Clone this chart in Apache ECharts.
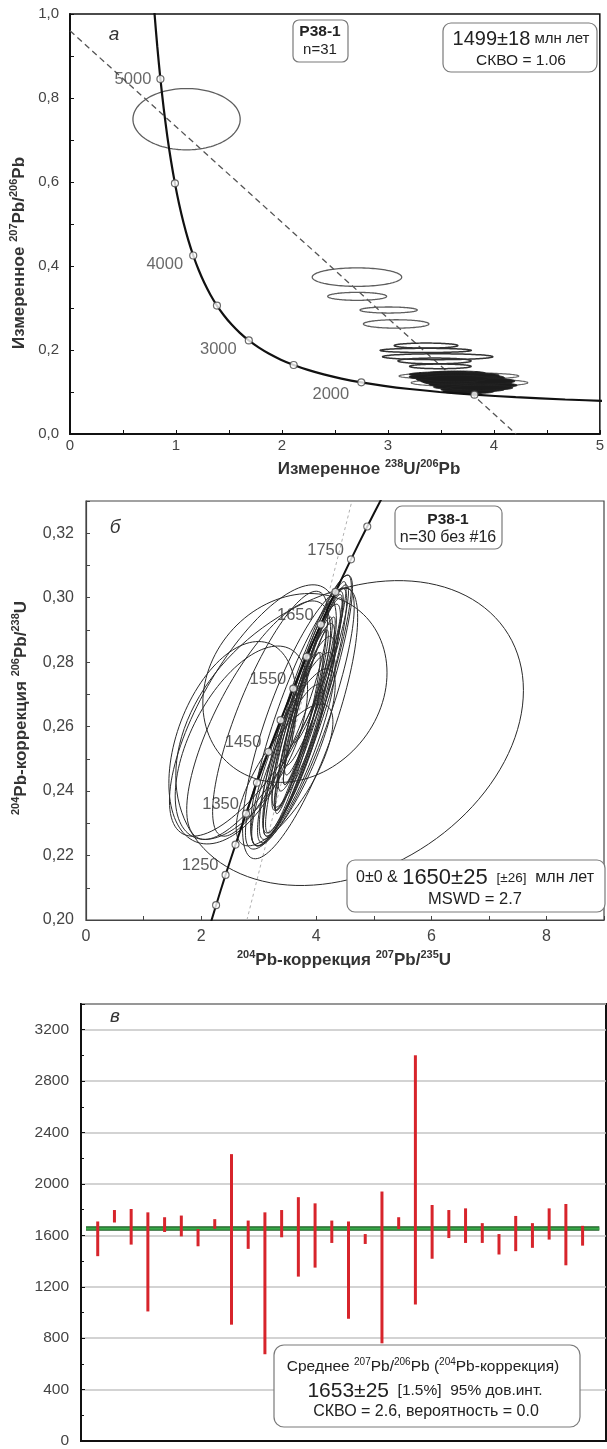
<!DOCTYPE html>
<html><head><meta charset="utf-8">
<script src="https://cdn.jsdelivr.net/npm/echarts@6/dist/echarts.min.js"></script>
<style>html,body{margin:0;padding:0;background:#fff}#c{width:607px;height:1449px}</style>
</head><body><div id="c"></div>
<script>
// ---------- Panel а (Tera-Wasserburg) ----------
const concA = [[0.795,1.009],[0.8234,0.9233],[0.8533,0.8452],[0.8848,0.7742],[0.9180,0.7094],[0.9531,0.6505],[0.9903,0.5968],[1.0296,0.5477],[1.0714,0.5030],[1.1157,0.4622],[1.1630,0.4250],[1.2134,0.3910],[1.2672,0.3600],[1.3249,0.3317],[1.3868,0.3058],[1.4535,0.2822],[1.5253,0.2605],[1.6031,0.2408],[1.6874,0.2227],[1.7793,0.2061],[1.8796,0.1909],[1.9896,0.1770],[2.1108,0.1643],[2.2449,0.1526],[2.3941,0.1419],[2.5610,0.1320],[2.7491,0.1230],[2.9623,0.1147],[3.2063,0.1071],[3.4880,0.1000],[3.8168,0.0936],[4.2061,0.0877],[4.6731,0.0822],[5.1203,0.0781]];
const concAMarks = [[0.8533,0.8452],[0.9903,0.5968],[1.1630,0.4250],[1.3868,0.3058],[1.6874,0.2227],[2.1108,0.1643],[2.7491,0.1230],[3.8168,0.0936]];
const concALabels = ['5000','','4000','','3000','','2000',''];
const discordA = [[0,0.96],[4.21,0]];
// [cx, cy, half-width x, half-height y, rho]
const ellA_open = [[1.10,0.7495,0.506,0.073,0],[2.708,0.3735,0.422,0.022,0],[2.71,0.3277,0.278,0.0095,0],[3.007,0.2952,0.27,0.0072,0],[3.078,0.262,0.309,0.010,0]];
const ellA_dark = [[3.36,0.2105,0.30,0.006,0],[3.357,0.199,0.43,0.005,0],[3.47,0.184,0.52,0.007,0],[3.44,0.174,0.345,0.0068,0],[3.495,0.161,0.29,0.0055,0]];
const ellA_fill = [[3.55,0.142,0.35,0.006,0],[3.62,0.138,0.37,0.008,0],[3.70,0.134,0.40,0.009,0],[3.60,0.130,0.33,0.008,0],[3.75,0.128,0.38,0.009,0],[3.68,0.124,0.35,0.008,0],[3.82,0.122,0.35,0.008,0],[3.72,0.118,0.33,0.007,0],[3.85,0.116,0.37,0.007,0],[3.78,0.112,0.35,0.007,0],[3.80,0.106,0.30,0.006,0],[3.76,0.101,0.24,0.005,0],[3.50,0.136,0.30,0.007,0],[3.90,0.126,0.30,0.007,0],[3.65,0.145,0.27,0.005,0],[3.58,0.126,0.27,0.007,0],[3.88,0.110,0.30,0.006,0],[3.70,0.140,0.35,0.006,0],[3.64,0.132,0.30,0.008,0]];
const ellA_wide = [[3.67,0.138,0.565,0.008,0],[3.77,0.122,0.55,0.009,0]];

// ---------- Panel б (Wetherill) ----------
const concB = [[2.1037,0.1953],[2.2603,0.2046],[2.4249,0.2140],[2.5978,0.2234],[2.7794,0.2330],[2.9702,0.2426],[3.1706,0.2522],[3.3810,0.2620],[3.6021,0.2718],[3.8344,0.2817],[4.0784,0.2917],[4.3348,0.3018],[4.6041,0.3119],[4.8869,0.3221],[5.1841,0.3324]];
const concBLabels = ['','','1250','','1350','','1450','','1550','','1650','','1750','',''];
const chordB = [[2.796,0.20],[4.62,0.33]];
const ellB_big = [
 [4.58,0.258,3.02,0.0473,0.28],[3.63,0.272,1.60,0.0293,0.16],[2.55,0.255,1.11,0.0314,0.40],
 [2.90,0.265,1.45,0.039,0.72],[3.00,0.262,1.25,0.037,0.75],[2.70,0.255,1.15,0.030,0.55],[3.20,0.264,1.00,0.038,0.80]
];
const ellB_narrow = [
 [3.82,0.266,0.81,0.041,0.90],[3.80,0.265,0.73,0.038,0.90],[3.85,0.268,0.62,0.034,0.92],[3.75,0.262,0.67,0.036,0.90],
 [3.90,0.270,0.56,0.030,0.92],[3.70,0.259,0.62,0.033,0.90],[3.95,0.273,0.50,0.028,0.93],[3.78,0.264,0.50,0.030,0.93],
 [3.65,0.256,0.67,0.032,0.88],[3.88,0.268,0.45,0.026,0.94],[3.72,0.262,0.45,0.028,0.93],[3.60,0.253,0.73,0.030,0.85],
 [4.00,0.276,0.56,0.028,0.92],[3.68,0.258,0.39,0.025,0.93],[3.82,0.266,0.39,0.024,0.94],[3.55,0.250,0.78,0.028,0.82],
 [3.76,0.263,0.90,0.040,0.85],[3.92,0.271,0.69,0.036,0.90],[3.50,0.248,0.62,0.025,0.85],[4.05,0.280,0.47,0.025,0.92],
 [3.62,0.255,0.50,0.028,0.90],[3.72,0.261,1.00,0.042,0.78],[3.45,0.245,0.84,0.022,0.75]
];

// ---------- Panel в (weighted mean) ----------
const spotTops    = [1708,1797,1805,1779,1741,1754,1649,1726,2232,1715,1779,1797,1897,1849,1715,1708,1610,1941,1741,3001,1836,1797,1810,1695,1610,1751,1695,1810,1844,1674];
const spotBottoms = [1438,1700,1528,1008,1626,1592,1515,1651, 905,1495, 675,1585,1279,1349,1541, 951,1533, 760,1649,1062,1418,1579,1541,1541,1451,1477,1503,1567,1367,1520];
const meanAge = 1653;
const meanSpan = [0.3, 31.0];

const FF = "'Liberation Sans', Arial, Helvetica, sans-serif";
function st(size, weight, extra){ return Object.assign({fontSize:size, fontFamily:FF, fontWeight:weight||'normal'}, extra||{}); }
function txt(x, y, text, size, opt){
  opt = opt || {};
  return {type:'text', x:x, y:y, rotation:opt.rot||0, z:120,
    style:Object.assign({text:text, fill:opt.color||'#222', align:opt.align||'center', verticalAlign:'middle',
      lineHeight:opt.lh||Math.round(size*1.3), rich:opt.rich||{}}, st(size, opt.weight, opt.italic?{fontStyle:'italic'}:{}))};
}
function box(x, y, w, h, r){ return {type:'rect', z:115, shape:{x:x,y:y,width:w,height:h,r:r||7}, style:{fill:'#fff', stroke:'#7a7a7a', lineWidth:1.2}}; }
function supRich(size, weight){ return {s: st(size, weight, {verticalAlign:'top'})}; }

function ellipseRender(fill, stroke, lw){
  return function(params, api){
    const cx=api.value(0), cy=api.value(1), rx=api.value(2), ry=api.value(3);
    let rho=api.value(4); if(isNaN(rho)) rho=0;
    const s=Math.sqrt(1-rho*rho), pts=[];
    for(let k=0;k<120;k++){ const t=k/120*2*Math.PI; pts.push(api.coord([cx+rx*Math.cos(t), cy+ry*(rho*Math.cos(t)+s*Math.sin(t))])); }
    return {type:'polygon', shape:{points:pts}, style:{fill:fill, stroke:stroke, lineWidth:lw}};
  };
}
function ellSeries(data, xi, fill, stroke, lw, z){
  return {type:'custom', xAxisIndex:xi, yAxisIndex:xi, clip:true, z:z||2, silent:true,
    renderItem: ellipseRender(fill, stroke, lw), encode:{x:0,y:1}, data:data};
}

function tickLbl(size){ return {color:'#444', fontSize:size, fontFamily:FF}; }
const chart = echarts.init(document.getElementById('c'), null, {renderer:'canvas'});

const labelPosA = [{offset:[0,0]},{},{offset:[-1,9]},{},{offset:[-3,9]},{},{offset:[-3,12]},{}];
const NONE = 'rgba(255,255,255,0)';

const option = {
  animation:false,
  backgroundColor:'#fff',
  grid:[
    {left:70, top:14, width:531, height:420, show:true, borderColor:'#111', borderWidth:1.5, backgroundColor:'transparent'},
    {left:86, top:501, width:520, height:419, show:true, borderColor:'#444', borderWidth:1.2, backgroundColor:'transparent'},
    {left:81, top:1004, width:525, height:439, show:true, borderColor:'#111', borderWidth:2, backgroundColor:'transparent'}
  ],
  xAxis:[
    {gridIndex:0, type:'value', min:0, max:5, interval:0.5,
     axisLine:{lineStyle:{color:'#111', width:2}}, axisTick:{inside:true, length:4, lineStyle:{color:'#111'}},
     axisLabel:Object.assign({margin:4, formatter:v=>Math.abs(v-Math.round(v))<1e-6?String(Math.round(v)):''}, tickLbl(15)), splitLine:{show:false}},
    {gridIndex:1, type:'value', min:0, max:9, interval:1,
     axisLine:{lineStyle:{color:'#444', width:1.2}}, axisTick:{inside:true, length:4, lineStyle:{color:'#444'}},
     axisLabel:Object.assign({margin:9, formatter:v=>(Math.round(v)%2===0 && v<9)?String(Math.round(v)):''}, tickLbl(16)), splitLine:{show:false}},
    {gridIndex:2, type:'value', min:0, max:31.4,
     axisLine:{lineStyle:{color:'#111', width:2}}, axisTick:{show:false}, axisLabel:{show:false}, splitLine:{show:false}}
  ],
  yAxis:[
    {gridIndex:0, type:'value', min:0, max:1, interval:0.1,
     axisLine:{lineStyle:{color:'#111', width:2}}, axisTick:{inside:true, length:4, lineStyle:{color:'#111'}},
     axisLabel:Object.assign({margin:11, formatter:v=>Math.round(v*10)%2===0?v.toFixed(1).replace('.',','):''}, tickLbl(15)), splitLine:{show:false}},
    {gridIndex:1, type:'value', min:0.2, max:0.33, interval:0.01,
     axisLine:{lineStyle:{color:'#444', width:1.2}}, axisTick:{inside:true, length:4, lineStyle:{color:'#444'}},
     axisLabel:Object.assign({margin:12, formatter:v=>Math.round(v*100)%2===0?v.toFixed(2).replace('.',','):''}, tickLbl(16)), splitLine:{show:false}},
    {gridIndex:2, type:'value', min:0, max:3400, interval:400,
     axisLine:{lineStyle:{color:'#111', width:2}}, axisTick:{inside:true, length:4, lineStyle:{color:'#111'}},
     minorTick:{show:true, splitNumber:2, length:3, lineStyle:{color:'#111'}},
     axisLabel:Object.assign({margin:12, formatter:v=>v<=3200?String(v):''}, tickLbl(15.5)),
     splitLine:{show:true, lineStyle:{color:'#c4c4c4', width:1.5}}}
  ],
  series:[
    // Panel а
    {type:'line', xAxisIndex:0, yAxisIndex:0, data:discordA, symbol:'none', z:1, silent:true,
     lineStyle:{color:'#555', width:1.3, type:[6,4]}},
    ellSeries(ellA_open, 0, NONE, '#5e5e5e', 1.3, 2),
    ellSeries(ellA_dark, 0, NONE, '#333', 1.5, 2),
    ellSeries(ellA_wide, 0, NONE, '#666', 1.2, 2),
    ellSeries(ellA_fill, 0, '#1c1c1c', '#222', 1, 3),
    {type:'line', xAxisIndex:0, yAxisIndex:0, data:concA, symbol:'none', smooth:0.3, z:4, silent:true,
     lineStyle:{color:'#111', width:2.2}},
    {type:'scatter', xAxisIndex:0, yAxisIndex:0, z:5, symbol:'circle', symbolSize:7, silent:true,
     itemStyle:{color:'#fff', borderColor:'#444', borderWidth:1.2},
     label:{show:true, position:'left', distance:5, color:'#444', fontSize:16.5, fontFamily:FF, formatter:p=>concALabels[p.dataIndex]},
     data:concAMarks.map((p,i)=>({value:p, label:labelPosA[i]}))},
    // Panel б
    {type:'line', xAxisIndex:1, yAxisIndex:1, data:chordB, symbol:'none', z:1, silent:true,
     lineStyle:{color:'#b0b0b0', width:1, type:[3,3]}},
    ellSeries(ellB_big, 1, NONE, '#2a2a2a', 1, 2),
    ellSeries(ellB_narrow, 1, NONE, '#2a2a2a', 1, 2),
    {type:'line', xAxisIndex:1, yAxisIndex:1, data:concB, symbol:'none', smooth:0.3, z:4, silent:true,
     lineStyle:{color:'#111', width:2}},
    {type:'scatter', xAxisIndex:1, yAxisIndex:1, z:5, symbol:'circle', symbolSize:7, silent:true,
     itemStyle:{color:'#fff', borderColor:'#444', borderWidth:1.1},
     label:{show:true, position:'left', distance:3, offset:[0,-9], color:'#333', fontSize:16.5, fontFamily:FF, formatter:p=>concBLabels[p.dataIndex]},
     data:concB},
    // Panel в
    {type:'line', xAxisIndex:2, yAxisIndex:2, data:meanSpan.map(x=>[x,meanAge]), symbol:'none', z:3, silent:true,
     lineStyle:{color:'#1f5f26', width:4.5}},
    {type:'line', xAxisIndex:2, yAxisIndex:2, data:meanSpan.map(x=>[x,meanAge]), symbol:'none', z:4, silent:true,
     lineStyle:{color:'#38a848', width:2.2}},
    {type:'custom', xAxisIndex:2, yAxisIndex:2, clip:true, z:5, silent:true, encode:{x:0, y:[1,2]},
     data:spotTops.map((t,i)=>[i+1, spotBottoms[i], t]),
     renderItem:function(params, api){
       const x=api.value(0); const p1=api.coord([x, api.value(1)]); const p2=api.coord([x, api.value(2)]);
       return {type:'rect', shape:{x:p1[0]-1.5, y:p2[1], width:3, height:p1[1]-p2[1]}, style:{fill:'#d7242b'}};
     }}
  ],
  graphic:[
    // Panel а
    txt(114, 35, 'а', 19, {italic:true, color:'#333'}),
    box(293, 20, 55, 42, 6),
    txt(320, 32, 'P38-1', 15.5, {weight:'bold'}),
    txt(320, 50, 'n=31', 15),
    box(443, 23, 154, 49, 8),
    txt(521, 39, '{b|1499±18} млн лет', 15, {rich:{b:st(20)}}),
    txt(521, 61, 'СКВО = 1.06', 15.5),
    txt(369, 469, 'Измеренное {s|238}U/{s|206}Pb', 17, {weight:'bold', lh:22, color:'#333', rich:supRich(11,'bold')}),
    txt(19, 253, 'Измеренное {s|207}Pb/{s|206}Pb', 17, {weight:'bold', lh:22, color:'#333', rot:Math.PI/2, rich:supRich(11,'bold')}),
    // Panel б
    txt(115, 528, 'б', 19, {italic:true, color:'#333'}),
    box(395, 506, 107, 43, 7),
    txt(448, 520, 'P38-1', 15.5, {weight:'bold'}),
    txt(448, 538, 'n=30 без #16', 16),
    box(347, 860, 258, 52, 8),
    txt(475, 878, '0±0 & {b|1650±25}  {m|[±26]}  млн лет', 16, {rich:{b:st(22), m:st(13.5)}}),
    txt(475, 899, 'MSWD = 2.7', 16.5),
    txt(344, 960, '{s|204}Pb-коррекция {s|207}Pb/{s|235}U', 17, {weight:'bold', lh:22, color:'#333', rich:supRich(11,'bold')}),
    txt(21, 708, '{s|204}Pb-коррекция {s|206}Pb/{s|238}U', 17, {weight:'bold', lh:22, color:'#333', rot:Math.PI/2, rich:supRich(11,'bold')}),
    // Panel в
    txt(115, 1017, 'в', 19, {italic:true, color:'#333'}),
    box(274, 1345, 306, 82, 10),
    txt(423, 1367, 'Среднее {s|207}Pb/{s|206}Pb ({s|204}Pb-коррекция)', 15.5, {lh:20, rich:supRich(10)}),
    txt(425, 1391, '{b|1653±25}  [1.5%]  95% дов.инт.', 15.5, {rich:{b:st(21)}}),
    txt(426, 1412, 'СКВО = 2.6, вероятность = 0.0', 16)
  ]
};
chart.setOption(option);
</script>
</body></html>
